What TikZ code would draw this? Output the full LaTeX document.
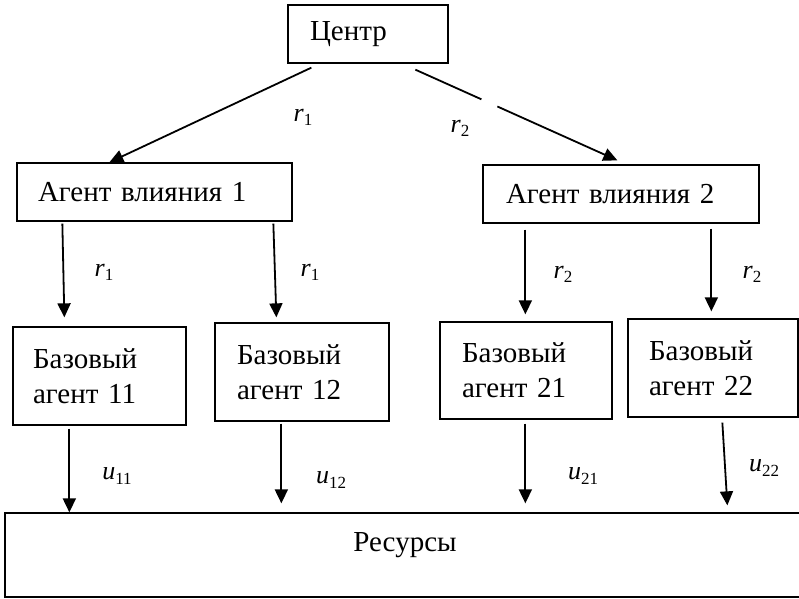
\documentclass[tikz,border=0pt]{standalone}
\usepackage{fontspec}
\setmainfont{Liberation Serif}
\usetikzlibrary{arrows.meta,calc}
\newcommand\bigtxt{\fontsize{29}{35}\selectfont}
\newcommand\labtxt{\fontsize{26}{30}\selectfont}
\newcommand\lab[2]{\textit{#1}\raisebox{-0.35ex}{\fontsize{17}{17}\selectfont #2}}
\begin{document}
\begin{tikzpicture}[x=1pt,y=-1pt,
  box/.style={draw, line width=1.3pt, inner ysep=0pt, align=left, font=\bigtxt},
  bx/.style n args={4}{box, minimum width=#1, minimum height=#2, inner xsep=#3, text width=#4},
  ln/.style={line width=1.8pt},
  arr/.style={line width=1.8pt, -{Triangle[length=14pt,width=13pt]}},
  lbl/.style={inner sep=0pt, font=\labtxt}]
\useasboundingbox (0,0) rectangle (799,598);
\clip (0,0) rectangle (799,598);
% boxes
\node[bx={160}{58}{22}{116}] (c) at (368,34) {Центр};
\node[bx={275}{58}{21}{233}] (a1) at (154.5,192) {Агент влияния 1};
\node[bx={276}{58}{23}{230}] (a2) at (621,194) {Агент влияния 2};
\node[bx={173}{98}{20}{133}] (b11) at (99.5,376) {Базовый\\агент 11};
\node[bx={174}{98}{22}{130}] (b12) at (302,372) {Базовый\\агент 12};
\node[bx={172}{97}{22}{128}] (b21) at (526,370.5) {Базовый\\агент 21};
\node[bx={170}{98}{21}{128}] (b22) at (713,368) {Базовый\\агент 22};
\node[draw, line width=1.3pt, inner sep=0pt, minimum width=800, minimum height=84] (res) at (405,555) {};
\node[inner sep=0pt, font=\bigtxt] (restext) at (405,545) {Ресурсы};
% top arrows
\draw[arr] ([shift={(24,4)}]c.south west) -- ([shift={(93,0)}]a1.north west);
\coordinate (r2s) at ([shift={(128,6)}]c.south west);
\coordinate (r2e) at ([shift={(135,-4)}]a2.north west);
\draw[ln] (r2s) -- ($(r2s)!0.327!(r2e)$);
\draw[arr] ($(r2s)!0.406!(r2e)$) -- (r2e);
% middle arrows
\draw[arr] ([shift={(46,2)}]a1.south west) -- ([shift={(52,-9)}]b11.north west);
\draw[arr] ([shift={(257,2)}]a1.south west) -- ([shift={(62,-5)}]b12.north west);
\draw[arr] ([shift={(43,6)}]a2.south west) -- ([shift={(86,-7)}]b21.north west);
\draw[arr] ([shift={(229,5)}]a2.south west) -- ([shift={(84,-7)}]b22.north west);
% bottom arrows
\draw[arr] ([shift={(57,3)}]b11.south west) -- ([shift={(65,0)}]res.north west);
\draw[arr] ([shift={(67,2)}]b12.south west) -- ([shift={(277,-9)}]res.north west);
\draw[arr] ([shift={(86,4)}]b21.south west) -- ([shift={(521,-9)}]res.north west);
\draw[arr] ([shift={(95,5)}]b22.south west) -- ([shift={(723,-7)}]res.north west);
% labels
\node[lbl] (l1) at (303,117) {\lab{r}{1}};
\node[lbl] (l2) at (460,128) {\lab{r}{2}};
\node[lbl] (l3) at (104,272) {\lab{r}{1}};
\node[lbl] (l4) at (310,272) {\lab{r}{1}};
\node[lbl] (l5) at (563,274) {\lab{r}{2}};
\node[lbl] (l6) at (752,274) {\lab{r}{2}};
\node[lbl] (l7) at (117,476) {\lab{u}{11}};
\node[lbl] (l8) at (331,480) {\lab{u}{12}};
\node[lbl] (l9) at (583,476) {\lab{u}{21}};
\node[lbl] (l10) at (764,468) {\lab{u}{22}};
\end{tikzpicture}
\end{document}
